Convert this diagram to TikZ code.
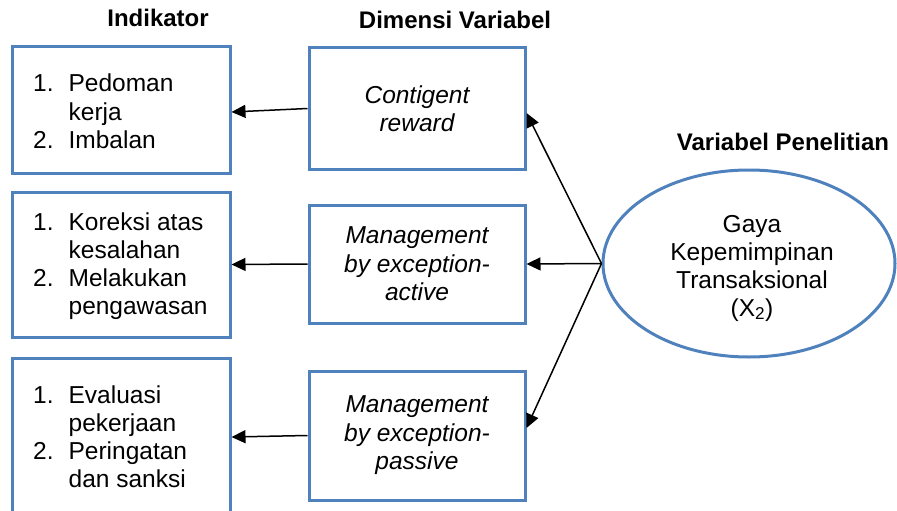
\documentclass[tikz,border=0pt]{standalone}
\usepackage{fontspec}
\setmainfont{Liberation Sans}
\usetikzlibrary{arrows.meta,shapes.geometric}
\definecolor{boxblue}{RGB}{79,129,189}
\begin{document}
\begin{tikzpicture}[x=1pt,y=-1pt,
  every node/.style={font=\fontsize{24.5}{28.3}\selectfont},
  indbox/.style={draw=boxblue,line width=3pt,minimum width=218pt,inner sep=0pt},
  dimbox/.style={draw=boxblue,line width=3pt,minimum width=216pt,inner sep=0pt,
    align=center,font=\fontsize{24.5}{28.5}\selectfont\itshape},
  varell/.style={ellipse,draw=boxblue,line width=3pt,minimum width=292pt,
    minimum height=187pt,inner sep=0pt},
  vartext/.style={align=center,inner sep=0pt,font=\fontsize{24.5}{28}\selectfont},
  listtext/.style={anchor=base west,inner sep=0pt},
  header/.style={anchor=base,inner sep=0pt,font=\fontsize{24}{28}\selectfont\bfseries},
  link/.style={line width=1.5pt,-{Triangle[length=14pt,width=13pt]}}]
\useasboundingbox (0,0) rectangle (897,511);

% column headings
\node[header] (hInd) at (158,27) {Indikator};
\node[header] (hDim) at (455,29) {Dimensi Variabel};
\node[header] (hVar) at (783,150) {Variabel Penelitian};

% indicator boxes
\node[indbox,minimum height=126pt] (ind1) at (121,110) {};
\node[indbox,minimum height=145pt] (ind2) at (121,264.5) {};
\node[indbox,minimum height=158pt] (ind3) at (121,437) {};

\node[listtext] (t1) at (33,92) {\begin{tabular}[t]{@{}l@{\hspace{15pt}}l@{}}
1. & Pedoman\\ & kerja\\ 2. & Imbalan\end{tabular}};
\node[listtext] (t2) at (33,230) {\begin{tabular}[t]{@{}l@{\hspace{15pt}}l@{}}
1. & Koreksi atas\\ & kesalahan\\ 2. & Melakukan\\ & pengawasan\end{tabular}};
\node[listtext] (t3) at (33,403) {\begin{tabular}[t]{@{}l@{\hspace{15pt}}l@{}}
1. & Evaluasi\\ & pekerjaan\\ 2. & Peringatan\\ & dan sanksi\end{tabular}};

% dimension boxes
\node[dimbox,minimum height=121pt] (dim1) at (417,108.5) {Contigent\\reward};
\node[dimbox,minimum height=118pt] (dim2) at (417,264) {Management\\by exception-\\active};
\node[dimbox,minimum height=129pt] (dim3) at (417,435.5) {Management\\by exception-\\passive};

% research variable
\node[varell] (var) at (749,263.5) {};
\node[vartext] (vt) at (752,268) {Gaya\\Kepemimpinan\\Transaksional\\(X\textsubscript{2})};

% connectors
\draw[link] (var.west) -- ([yshift=-4.5pt]dim1.east);
\draw[link] (var.west) -- (dim2.east);
\draw[link] (var.west) -- ([yshift=7.5pt]dim3.east);

\draw[link] (dim1.west) -- ([yshift=-2pt]ind1.east);
\draw[link] (dim2.west) -- (ind2.east);
\draw[link] (dim3.west) -- (ind3.east);
\end{tikzpicture}
\end{document}
